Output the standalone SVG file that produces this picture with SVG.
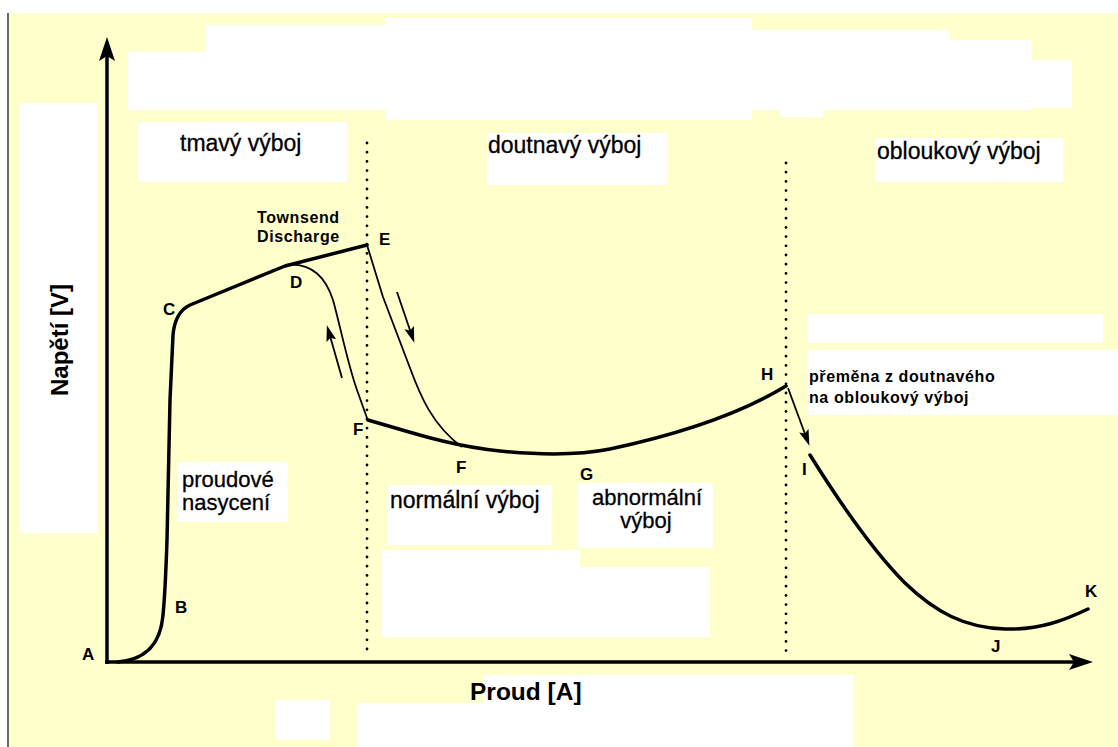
<svg xmlns="http://www.w3.org/2000/svg" width="1118" height="747" viewBox="0 0 1118 747">
  <style>
    .bg { fill: #FFFFCC; }
    .wb { fill: #FFFFFF; }
    .thick { fill: none; stroke: #000; stroke-width: 3.5; stroke-linejoin: round; stroke-linecap: round; }
    .thin { fill: none; stroke: #000; stroke-width: 1.8; stroke-linejoin: round; }
    .axis { fill: none; stroke: #000; stroke-width: 3.5; }
    .dots { fill: none; stroke: #000; stroke-width: 2.8; stroke-dasharray: 0 9.2; stroke-linecap: round; }
    .region { font-family: "Liberation Sans", Arial, sans-serif; font-size: 23px; fill: #000; stroke: #000; stroke-width: 0.3; }
    .region2 { font-family: "Liberation Sans", Arial, sans-serif; font-size: 22px; fill: #000; stroke: #000; stroke-width: 0.3; }
    .pt { font-family: "Liberation Sans", Arial, sans-serif; font-size: 17px; font-weight: bold; fill: #000; }
    .note { font-family: "Liberation Sans", Arial, sans-serif; font-size: 16px; font-weight: bold; fill: #000; letter-spacing: 0.6px; }
    .axlabel { font-family: "Liberation Sans", Arial, sans-serif; font-size: 24px; font-weight: bold; fill: #000; }
  </style>
  <defs>
    <marker id="axisHead" markerUnits="userSpaceOnUse" viewBox="0 0 24 16" markerWidth="24" markerHeight="16" refX="14" refY="8" orient="auto">
      <path d="M0,0 L24,8 L0,16 L5,8 z" fill="#000"/>
    </marker>
    <marker id="head" markerUnits="userSpaceOnUse" viewBox="0 0 16 10" markerWidth="16" markerHeight="10" refX="12" refY="5" orient="auto">
      <path d="M0,0 L16,5 L0,10 L3,5 z" fill="#000"/>
    </marker>
  </defs>

  <!-- background -->
  <rect x="0" y="0" width="1118" height="747" fill="#FFFFFF"/>
  <rect class="bg" x="8" y="13" width="1110" height="734"/>
  <line x1="8" y1="13" x2="8" y2="747" stroke="#6b6b60" stroke-width="2"/>

  <!-- white patches (erased areas) -->
  <g id="white-patches">
    <rect class="wb" x="128" y="52" width="80" height="58"/>
    <rect class="wb" x="205" y="25" width="182" height="85"/>
    <rect class="wb" x="385" y="18" width="367" height="102"/>
    <rect class="wb" x="750" y="30" width="200" height="80"/>
    <rect class="wb" x="780" y="100" width="43" height="17"/>
    <rect class="wb" x="948" y="40" width="84" height="70"/>
    <rect class="wb" x="1030" y="60" width="42" height="48"/>
    <rect class="wb" x="138" y="122" width="209" height="60"/>
    <rect class="wb" x="487" y="133" width="180" height="52"/>
    <rect class="wb" x="875" y="138" width="188" height="44"/>
    <rect class="wb" x="20" y="103" width="77" height="430"/>
    <rect class="wb" x="177" y="462" width="111" height="60"/>
    <rect class="wb" x="388" y="485" width="164" height="60"/>
    <rect class="wb" x="577" y="483" width="136" height="65"/>
    <rect class="wb" x="382" y="550" width="198" height="87"/>
    <rect class="wb" x="577" y="567" width="133" height="70"/>
    <rect class="wb" x="808" y="314" width="295" height="29"/>
    <rect class="wb" x="808" y="350" width="310" height="65"/>
    <rect class="wb" x="483" y="675" width="370" height="72"/>
    <rect class="wb" x="357" y="703" width="130" height="44"/>
    <rect class="wb" x="275" y="700" width="55" height="40"/>
  </g>

  <!-- axes -->
  <g id="axes">
    <line class="axis" x1="107" y1="664" x2="107" y2="47" marker-end="url(#axisHead)"/>
    <line class="axis" x1="105" y1="662" x2="1083" y2="662" marker-end="url(#axisHead)"/>
    <text class="axlabel" transform="translate(68,340) rotate(-90)" text-anchor="middle">Napětí [V]</text>
    <text class="axlabel" x="470" y="700" style="font-size:24.5px">Proud [A]</text>
  </g>

  <!-- region separators -->
  <g id="separators">
    <line class="dots" x1="367" y1="143" x2="367" y2="652"/>
    <line class="dots" x1="786" y1="163" x2="786" y2="652"/>
  </g>

  <!-- connectors: characteristic curve and arrows -->
  <g id="connectors">
    <path id="curve-A-E" class="thick" d="M118,662 C140,660 160,650 163,615 C165,595 166,570 167,540 L170,400 L173,335 Q175,312 190,305 L285,266 L367,245"/>
    <path id="curve-D-F" class="thin" d="M285,265 C310,262 325,275 333,300 C340,325 348,365 357,390 L367,418"/>
    <path id="curve-E-F" class="thin" d="M367,245 L383,297 L410,368 C420,395 432,425 462,447"/>
    <path id="curve-F-H" class="thick" d="M368,420 C410,432 450,446 500,451 C540,455 580,455 610,449 C680,434 740,414 786,386"/>
    <path id="curve-I-K" class="thick" d="M810,455 C835,495 870,548 905,583 C935,612 965,628 1005,629 C1040,630 1065,620 1088,609"/>
    <line id="arrow-down" class="thin" x1="397" y1="292" x2="413" y2="339" marker-end="url(#head)"/>
    <line id="arrow-up" class="thin" x1="342" y1="378" x2="328" y2="329" marker-end="url(#head)"/>
    <line id="arrow-H-I" class="thin" x1="788" y1="388" x2="808" y2="442" marker-end="url(#head)"/>
  </g>

  <!-- point labels -->
  <g id="point-A"><text class="pt" x="82" y="660">A</text></g>
  <g id="point-B"><text class="pt" x="175" y="613">B</text></g>
  <g id="point-C"><text class="pt" x="163" y="315">C</text></g>
  <g id="point-D"><text class="pt" x="290" y="288">D</text></g>
  <g id="point-E"><text class="pt" x="379" y="245">E</text></g>
  <g id="point-F1"><text class="pt" x="353" y="435">F</text></g>
  <g id="point-F2"><text class="pt" x="456" y="473">F</text></g>
  <g id="point-G"><text class="pt" x="580" y="480">G</text></g>
  <g id="point-H"><text class="pt" x="761" y="380">H</text></g>
  <g id="point-I"><text class="pt" x="802" y="475">I</text></g>
  <g id="point-J"><text class="pt" x="991" y="652">J</text></g>
  <g id="point-K"><text class="pt" x="1085" y="597">K</text></g>

  <!-- region labels -->
  <g id="label-tmavy"><text class="region" x="180" y="151">tmavý výboj</text></g>
  <g id="label-doutnavy"><text class="region" x="488" y="153">doutnavý výboj</text></g>
  <g id="label-obloukovy"><text class="region" x="877" y="159">obloukový výboj</text></g>
  <g id="label-townsend">
    <text class="note" x="257" y="223">Townsend</text>
    <text class="note" x="257" y="242">Discharge</text>
  </g>
  <g id="label-nasyceni">
    <text class="region2" x="182" y="487">proudové</text>
    <text class="region2" x="182" y="510">nasycení</text>
  </g>
  <g id="label-normalni"><text class="region" x="390" y="508">normální výboj</text></g>
  <g id="label-abnormalni">
    <text class="region2" x="647" y="505" text-anchor="middle">abnormální</text>
    <text class="region2" x="646" y="528" text-anchor="middle">výboj</text>
  </g>
  <g id="label-premena">
    <text class="note" x="809" y="382">přeměna z doutnavého</text>
    <text class="note" x="809" y="403">na obloukový výboj</text>
  </g>
</svg>
